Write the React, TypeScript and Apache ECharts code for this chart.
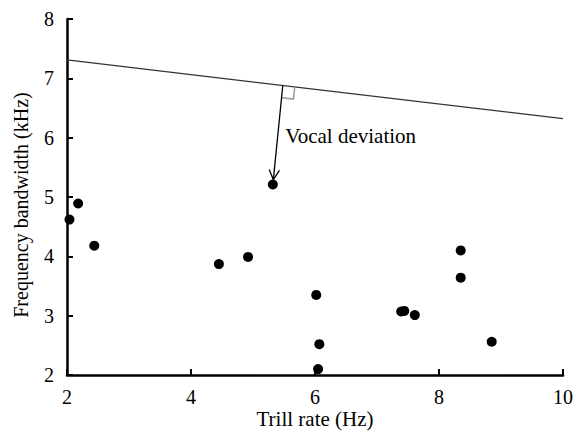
import React, { useEffect, useRef } from "react";
import * as echarts from "echarts";

const trillRate = [2.04, 2.18, 2.44, 4.45, 4.92, 5.32, 6.02, 6.07, 6.05, 7.39, 7.44, 7.61, 8.35, 8.35, 8.85];
const bandwidth = [4.62, 4.89, 4.18, 3.87, 3.99, 5.21, 3.35, 2.52, 2.1, 3.07, 3.08, 3.01, 4.1, 3.64, 2.56];
const boundX = [2, 10];
const boundY = [7.31, 6.32];
const deviationFoot = [5.48, 6.875];
const deviationPoint = [5.32, 5.21];
const deviationLabel = "Vocal deviation";
const labelAnchor = [5.52, 6.03];
const xTitle = "Trill rate (Hz)";
const yTitle = "Frequency bandwidth (kHz)";

const FONT = "'Liberation Serif', 'Times New Roman', serif";

export default function App() {
  const ref = useRef<HTMLDivElement>(null);
  useEffect(() => {
    document.body.style.margin = "0";
    const chart = echarts.init(ref.current!, null, { renderer: "svg" });
    const points = trillRate.map((x, i) => [x, bandwidth[i]]);
    const boundary = boundX.map((x, i) => [x, boundY[i]]);
    chart.setOption({
      animation: false,
      backgroundColor: "#fff",
      grid: { left: 67, right: 15, top: 19, bottom: 57, containLabel: false, outerBoundsMode: "none" },
      xAxis: {
        type: "value",
        min: 2,
        max: 10,
        interval: 2,
        name: xTitle,
        nameLocation: "middle",
        nameGap: 33,
        nameMoveOverlap: false,
        nameTextStyle: { fontFamily: FONT, fontSize: 21, lineHeight: 21, color: "#000" },
        axisLine: { show: true, lineStyle: { color: "#000", width: 2.5 } },
        axisTick: { show: true, inside: true, length: 6, lineStyle: { color: "#000", width: 2 } },
        axisLabel: { fontFamily: FONT, fontSize: 20, color: "#000", margin: 12 },
        splitLine: { show: false },
      },
      yAxis: {
        type: "value",
        min: 2,
        max: 8,
        interval: 1,
        name: yTitle,
        nameLocation: "middle",
        nameGap: 36,
        nameMoveOverlap: false,
        nameTextStyle: { fontFamily: FONT, fontSize: 20, color: "#000", padding: [0, 16, 0, 0] },
        axisLine: { show: true, lineStyle: { color: "#000", width: 2.5 } },
        axisTick: { show: true, inside: true, length: 6, lineStyle: { color: "#000", width: 2 } },
        axisLabel: { fontFamily: FONT, fontSize: 20, color: "#000", margin: 13 },
        splitLine: { show: false },
      },
      series: [
        {
          type: "line",
          data: boundary,
          symbol: "none",
          lineStyle: { color: "#333", width: 1.2 },
          z: 2,
        },
        {
          type: "scatter",
          data: points,
          symbol: "circle",
          symbolSize: 10,
          itemStyle: { color: "#000", opacity: 1 },
          z: 4,
        },
        {
          type: "custom",
          data: [[deviationFoot[0], deviationFoot[1], deviationPoint[0], deviationPoint[1]]],
          z: 3,
          renderItem: (params: any, api: any) => {
            const foot = api.coord([api.value(0), api.value(1)]);
            const pt = api.coord([api.value(2), api.value(3)]);
            const b0 = api.coord([boundX[0], boundY[0]]);
            const b1 = api.coord([boundX[1], boundY[1]]);
            let ux = b1[0] - b0[0];
            let uy = b1[1] - b0[1];
            const ul = Math.hypot(ux, uy);
            ux /= ul;
            uy /= ul;
            let vx = pt[0] - foot[0];
            let vy = pt[1] - foot[1];
            const vl = Math.hypot(vx, vy);
            vx /= vl;
            vy /= vl;
            const tip = [pt[0] - vx * 5, pt[1] - vy * 5];
            const head = 11;
            const ang = (28 * Math.PI) / 180;
            const bx = -vx, by = -vy;
            const h1 = [tip[0] + head * (bx * Math.cos(ang) - by * Math.sin(ang)), tip[1] + head * (bx * Math.sin(ang) + by * Math.cos(ang))];
            const h2 = [tip[0] + head * (bx * Math.cos(-ang) - by * Math.sin(-ang)), tip[1] + head * (bx * Math.sin(-ang) + by * Math.cos(-ang))];
            const s = 12;
            const sq = [
              [foot[0] + ux * s, foot[1] + uy * s],
              [foot[0] + ux * s + vx * s, foot[1] + uy * s + vy * s],
              [foot[0] + vx * s, foot[1] + vy * s],
            ];
            const la = api.coord(labelAnchor);
            return {
              type: "group",
              children: [
                { type: "polyline", shape: { points: sq }, style: { stroke: "#999", lineWidth: 1.5, fill: null } },
                { type: "line", shape: { x1: foot[0], y1: foot[1], x2: tip[0], y2: tip[1] }, style: { stroke: "#000", lineWidth: 1.3 } },
                { type: "polyline", shape: { points: [h1, tip, h2] }, style: { stroke: "#000", lineWidth: 1.3, fill: null } },
                {
                  type: "text",
                  x: la[0],
                  y: la[1],
                  style: { text: deviationLabel, font: `21px ${FONT}`, fill: "#000", textAlign: "left", textVerticalAlign: "middle" },
                },
              ],
            };
          },
        },
      ],
    });
    return () => chart.dispose();
  }, []);
  return <div ref={ref} style={{ width: 578, height: 432 }} />;
}
